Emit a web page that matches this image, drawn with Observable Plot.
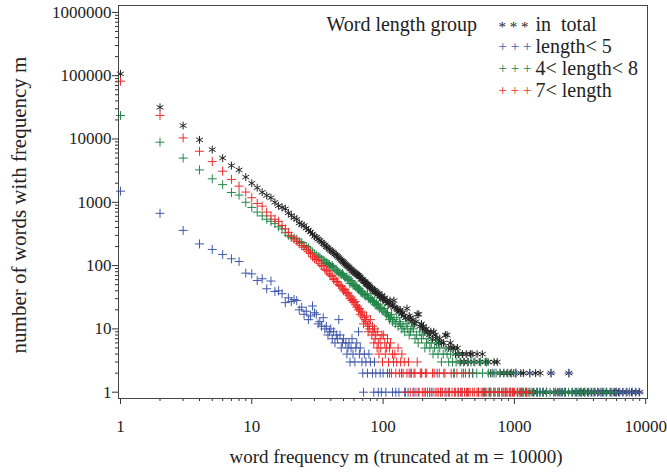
<!DOCTYPE html>
<html><head><meta charset="utf-8">
<script src="https://cdn.jsdelivr.net/npm/d3@7"></script>
<script src="https://cdn.jsdelivr.net/npm/@observablehq/plot@0.6"></script>
<style>body{margin:0;background:#fff} svg{display:block}</style>
</head><body><div id="chart"></div><script>
// [word frequency m, number of words with frequency m]
const inTotal = [[1,107000],[2,31700],[3,16300],[4,9700],[5,6800],[6,5000],[7,3800],[8,3250],[9,2500],[10,2000],[11,1700],[12,1440],[13,1280],[14,1180],[15,1000],[16,880],[17,830],[18,790],[19,680],[20,620],[21,570],[22,540],[23,470],[24,445],[25,430],[26,390],[27,365],[28,340],[29,315],[30,290],[31,280],[32,262],[33,250],[34,235],[35,222],[36,212],[37,198],[38,192],[39,180],[40,172],[41,166],[42,160],[43,152],[44,146],[45,140],[46,134],[47,128],[48,121],[49,117],[50,113],[51,108],[52,104],[53,100],[54,97],[55,94],[56,89],[57,88],[58,84],[59,81],[60,79],[61,77],[62,75],[63,73],[64,71],[65,70],[66,67],[67,66],[68,62],[69,60],[70,60],[71,57],[72,56],[73,55],[74,52],[75,51],[76,50],[77,50],[78,48],[79,46],[80,45],[82,44],[83,42],[84,40],[86,41],[87,38],[88,39],[90,37],[91,35],[93,36],[94,33],[96,32],[98,34],[99,30],[101,29],[103,31],[105,27],[107,28],[109,25],[111,26],[113,28],[115,23],[118,24],[121,28],[123,22],[126,21],[129,20],[132,19],[135,20],[138,17],[141,18],[144,16],[148,15],[152,21],[155,14],[158,16],[161,15],[165,13],[169,14],[173,12],[178,13],[182,17],[187,17],[191,11],[196,12],[200,10],[203,11],[208,9],[213,10],[219,9],[225,8],[231,9],[238,7],[243,9],[250,8],[256,7],[263,6],[270,7],[278,6],[288,6],[298,8],[307,8],[316,5],[325,6],[335,5],[345,5],[356,4],[368,5],[377,4],[390,3],[402,4],[415,3],[430,4],[445,3],[463,4],[476,4],[492,3],[520,4],[540,3],[570,4],[600,3],[630,3],[660,2],[700,3],[740,3],[780,2],[830,2],[880,2],[930,2],[990,2],[1050,1],[1120,2],[1170,2],[1230,1],[1310,2],[1380,1],[1450,2],[1500,1],[1570,2],[1650,1],[1750,1],[1900,2],[2000,1],[2150,1],[2300,1],[2450,1],[2600,2],[2750,1],[2950,1],[3150,1],[3350,1],[3600,1],[3850,1],[4100,1],[4400,1],[4700,1],[5000,1],[5400,1],[5800,1],[6200,1],[6700,1],[7200,1],[7800,1],[8400,1],[9000,1]];

const lengthLt5 = [[1,1500],[2,670],[3,360],[4,220],[5,180],[6,150],[7,128],[8,116],[9,76],[10,74],[11,58],[12,62],[13,43],[14,57],[15,39],[16,40],[17,36],[18,26],[19,31],[20,27],[21,29],[22,28],[23,20],[24,22],[25,17],[26,19],[27,14],[28,16],[29,23],[30,18],[31,17],[32,12],[33,13],[34,11],[35,15],[36,10],[37,11],[38,8],[39,9],[40,10],[41,7],[42,9],[43,6],[44,8],[45,7],[46,14],[47,8],[48,5],[49,6],[50,7],[52,6],[53,4],[54,5],[55,6],[56,3],[57,5],[58,7],[59,4],[61,3],[62,5],[63,6],[65,9],[66,4],[67,5],[69,3],[70,2],[71,1],[72,4],[74,3],[76,2],[78,4],[80,3],[83,2],[85,1],[86,3],[88,2],[92,1],[95,2],[97,1],[100,2],[105,1],[108,2],[112,2],[118,1],[125,1],[132,1],[138,2],[146,1],[155,1],[163,2],[172,1],[185,1],[197,2],[210,1],[226,1],[240,1],[258,2],[275,1],[296,1],[318,1],[345,2],[372,1],[400,1],[440,1],[480,2],[530,1],[580,1],[640,1],[700,2],[770,1],[850,1],[940,1],[1030,2],[1130,1],[1220,1],[1310,2],[1400,1],[1480,1],[1560,1],[1650,1],[1760,1],[1900,2],[2050,1],[2200,1],[2330,1],[2450,1],[2600,2],[2750,1],[2900,1],[3050,1],[3250,1],[3450,1],[3650,1],[3850,1],[4100,1],[4300,1],[4550,1],[4800,1],[5050,1],[5350,1],[5650,1],[6000,1],[6350,1],[6700,1],[7100,1],[7500,1],[7900,1],[8400,1],[8900,1]];

const length5to7 = [[1,23500],[2,8900],[3,5000],[4,3250],[5,2350],[6,1900],[7,1430],[8,1300],[9,1000],[10,830],[11,700],[12,610],[13,540],[14,500],[15,460],[16,410],[17,380],[18,330],[19,300],[20,280],[21,270],[22,262],[23,240],[24,232],[25,208],[26,200],[27,190],[28,175],[29,160],[30,152],[31,146],[32,140],[33,135],[34,126],[35,122],[36,118],[37,112],[38,108],[39,104],[40,97],[41,100],[42,93],[43,88],[44,84],[45,82],[46,78],[47,76],[48,72],[49,75],[50,70],[51,66],[52,64],[53,66],[54,60],[55,62],[56,52],[57,58],[58,55],[59,49],[60,50],[61,48],[62,46],[63,47],[64,44],[65,42],[66,43],[67,40],[68,38],[69,39],[70,36],[72,35],[73,33],[74,34],[76,36],[77,31],[78,30],[80,29],[81,31],[83,28],[84,27],[86,26],[87,24],[89,25],[90,23],[92,24],[94,21],[96,22],[98,20],[100,19],[102,21],[104,18],[106,17],[108,18],[110,16],[112,14],[114,15],[116,17],[118,13],[121,14],[124,12],[127,15],[130,11],[133,13],[136,12],[139,10],[142,11],[146,9],[150,12],[154,10],[158,8],[162,9],[166,11],[170,10],[175,7],[180,8],[185,6],[190,9],[196,7],[202,8],[208,5],[214,6],[220,7],[227,5],[233,6],[240,4],[247,5],[255,6],[262,4],[270,5],[278,3],[287,4],[297,5],[307,4],[316,3],[327,4],[338,3],[349,2],[360,3],[372,4],[385,3],[398,2],[410,3],[424,2],[438,3],[452,2],[467,3],[483,2],[500,3],[517,2],[535,1],[553,3],[572,2],[592,1],[612,3],[633,2],[655,1],[678,2],[701,1],[725,2],[750,1],[776,2],[803,1],[831,2],[860,1],[890,2],[921,1],[953,2],[986,1],[1020,2],[1060,1],[1100,1],[1150,1],[1210,1],[1270,1],[1340,1],[1410,1],[1490,1],[1570,1],[1660,1],[1760,1],[1870,1],[1990,1],[2120,1],[2260,1],[2410,1],[2580,1],[2760,1],[2960,1],[3180,1],[3420,1],[3690,1],[3980,1],[4300,1],[4650,1],[5030,1],[5450,1],[5900,1]];

const lengthGt7 = [[1,81800],[2,23600],[3,10400],[4,6400],[5,4400],[6,3100],[7,2300],[8,1800],[9,1450],[10,1180],[11,960],[12,870],[13,700],[14,610],[15,540],[16,500],[17,430],[18,380],[19,335],[20,290],[21,265],[22,245],[23,222],[24,207],[25,195],[26,180],[27,165],[28,155],[29,138],[30,128],[31,125],[32,118],[33,107],[34,100],[35,98],[36,88],[37,84],[38,82],[39,74],[40,70],[41,68],[42,60],[43,62],[44,56],[45,55],[46,50],[47,48],[48,47],[49,44],[50,40],[51,42],[52,38],[53,36],[54,37],[55,34],[56,30],[57,32],[58,28],[59,29],[60,26],[61,27],[62,24],[63,22],[64,23],[65,20],[66,21],[67,17],[68,19],[69,16],[70,18],[71,12],[72,15],[73,14],[74,13],[75,16],[76,11],[77,9],[78,12],[79,10],[80,14],[82,8],[83,11],[84,9],[85,6],[86,10],[87,7],[88,8],[90,5],[91,9],[92,6],[93,4],[95,7],[96,5],[98,8],[99,3],[101,8],[103,6],[104,4],[106,5],[108,7],[110,3],[112,5],[114,6],[116,2],[118,4],[120,3],[123,4],[125,2],[127,3],[130,5],[133,2],[136,3],[139,4],[142,2],[145,3],[148,1],[152,2],[156,3],[158,2],[161,1],[164,2],[169,1],[172,2],[175,2],[178,1],[182,3],[188,1],[192,2],[195,2],[199,1],[205,1],[210,2],[215,2],[218,1],[226,1],[233,1],[238,2],[245,2],[249,1],[257,1],[263,1],[268,2],[274,1],[283,1],[290,2],[296,2],[302,1],[313,1],[321,1],[330,2],[335,1],[349,1],[357,1],[365,2],[374,1],[388,1],[398,1],[410,2],[417,1],[431,1],[449,1],[455,2],[460,1],[481,1],[495,1],[519,1],[533,1],[558,1],[574,1],[601,1],[617,1],[646,1],[664,1],[695,1],[715,1],[748,1],[770,1],[805,1],[829,1],[866,1],[891,1],[930,1],[967,1],[1005,1],[1060,1],[1110,1],[1170,1],[1240,1],[1300,1]];

const xTicks = [1, 10, 100, 1000, 10000];
const yTicks = [1, 10, 100, 1000, 10000, 100000, 1000000];
const legendTitle = "Word length group";
const legendSymbols = ["* * *", "+ + +", "+ + +", "+ + +"];
const legendLabels = ["in  total", "length< 5", "4< length< 8", "7< length"];
const seriesColors = ["#222222", "#3f58ab", "#23864a", "#ee2b2b"];
const xLabel = "word frequency m (truncated at m = 10000)";
const yLabel = "number of words with frequency m";

const minorX = xTicks.slice(0, -1).flatMap(p => [2,3,4,5,6,7,8,9].map(k => k * p));
const minorY = yTicks.slice(0, -1).flatMap(p => [2,3,4,5,6,7,8,9].map(k => k * p));

const ink = "#333";
const serif = "'Liberation Serif', 'DejaVu Serif', serif";
const series = [
  {data: inTotal, symbol: "asterisk", r: 3.7, color: seriesColors[0]},
  {data: lengthLt5, symbol: "plus", r: 3.0, color: seriesColors[1]},
  {data: length5to7, symbol: "plus", r: 3.0, color: seriesColors[2]},
  {data: lengthGt7, symbol: "plus", r: 3.0, color: seriesColors[3]}
];

const chart = Plot.plot({
  width: 667,
  height: 472,
  marginLeft: 118,
  marginRight: 20,
  marginTop: 5,
  marginBottom: 74,
  style: {fontFamily: serif, fontSize: "17px", background: "#fff", color: "#222", overflow: "visible"},
  x: {type: "log", domain: [0.966, 10320]},
  y: {type: "log", domain: [0.795, 1285000]},
  marks: [
    Plot.axisY(yTicks, {tickSize: 6, tickPadding: 1, tickFormat: d => String(d), label: null, stroke: ink, fill: "#222", fontSize: 17, fontFamily: serif}),
    Plot.axisY(minorY, {tickSize: 3, tickFormat: () => "", label: null, stroke: ink}),
    Plot.axisX(xTicks, {tickSize: 6, tickPadding: 15, tickFormat: d => String(d), label: null, stroke: ink, fill: "#222", fontSize: 17, fontFamily: serif}),
    Plot.axisX(minorX, {tickSize: 3, tickFormat: () => "", label: null, stroke: ink}),
    ...series.map(s => Plot.dot(s.data, {x: d => d[0], y: d => d[1], symbol: s.symbol, r: s.r, stroke: s.color, strokeWidth: 1})),
    Plot.frame({stroke: "#444"}),
    Plot.text([legendTitle], {frameAnchor: "top-left", lineAnchor: "middle", dx: 208, dy: 19, fontSize: 20, fontFamily: serif, fill: "#222"}),
    ...legendLabels.map((t, i) => Plot.text([legendSymbols[i]], {frameAnchor: "top-left", lineAnchor: "middle", dx: 380, dy: 19 + 22 * i + (i === 0 ? 3 : 0), fontSize: 15, fontFamily: serif, fill: seriesColors[i]})),
    ...legendLabels.map((t, i) => Plot.text([t], {frameAnchor: "top-left", lineAnchor: "middle", dx: 417, dy: 19 + 22 * i, fontSize: 20, fontFamily: serif, fill: "#222"})),
    Plot.text([xLabel], {frameAnchor: "bottom", lineAnchor: "middle", dx: 13, dy: 58, fontSize: 19, fontFamily: serif, fill: "#222"}),
    Plot.text([yLabel], {frameAnchor: "left", textAnchor: "middle", lineAnchor: "middle", rotate: -90, dx: -99, dy: 3, fontSize: 21, fontFamily: serif, fill: "#222"})
  ]
});
document.getElementById("chart").appendChild(chart);
</script></body></html>
